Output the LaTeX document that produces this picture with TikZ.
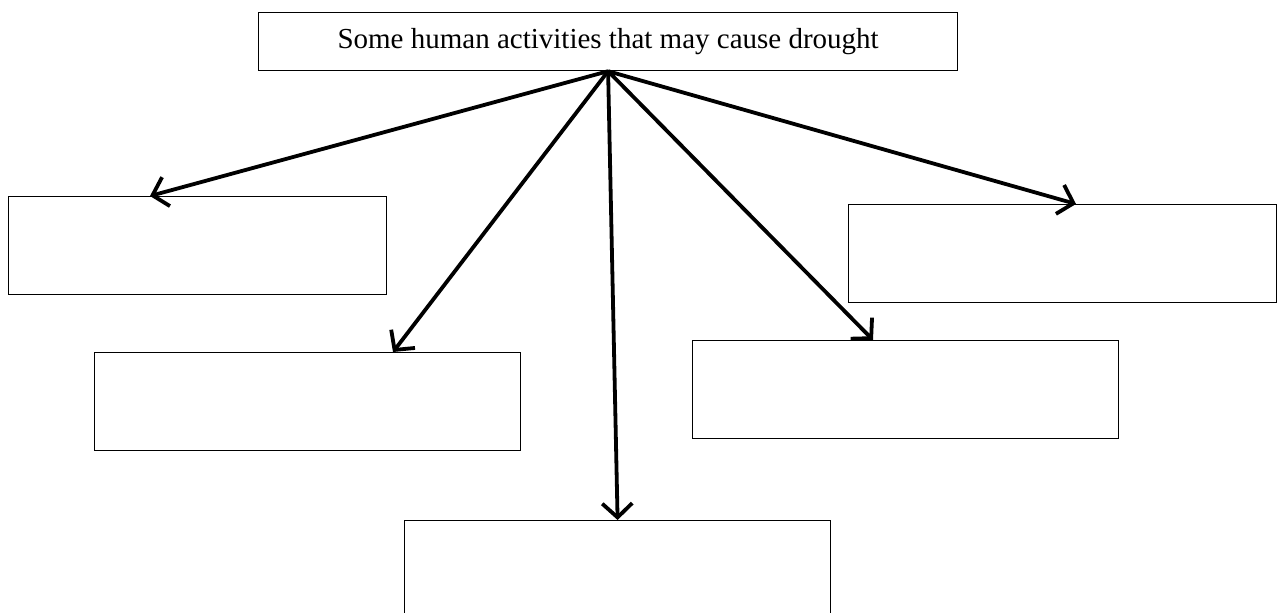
\documentclass[tikz,border=0pt]{standalone}
\usepackage{fontspec}
\setmainfont{Liberation Serif}
\usetikzlibrary{arrows.meta,positioning}
\begin{document}
\begin{tikzpicture}[x=1pt,y=-1pt,
  box/.style={draw=black,line width=1.2pt,inner sep=0pt,anchor=north west,minimum height=98pt},
  conn/.style={draw=black,line width=3.8pt,-{Straight Barb[length=14pt,width=30pt,line width=3.8pt]}}]
\useasboundingbox (0,0) rectangle (1278,613);
\node[box,minimum width=699pt,minimum height=58pt,font=\fontsize{29}{34}\selectfont] (top) at (258,12) {Some human activities that may cause drought};
\node[box,minimum width=378pt] (b1) at (8,196) {};
\node[box,minimum width=426pt] (b2) at (94,352) {};
\node[box,minimum width=426pt,minimum height=100pt] (b3) at (404,520) {};
\node[box,minimum width=426pt] (b4) at (692,340) {};
\node[box,minimum width=428pt] (b5) at (848,204) {};
\draw[conn] (top.south) -- ([xshift=142pt]b1.north west);
\draw[conn] (top.south) -- ([xshift=299pt]b2.north west);
\draw[conn] (top.south) -- (b3.north);
\draw[conn] (top.south) -- ([xshift=181pt]b4.north west);
\draw[conn] (top.south) -- ([xshift=228pt]b5.north west);
\end{tikzpicture}
\end{document}
